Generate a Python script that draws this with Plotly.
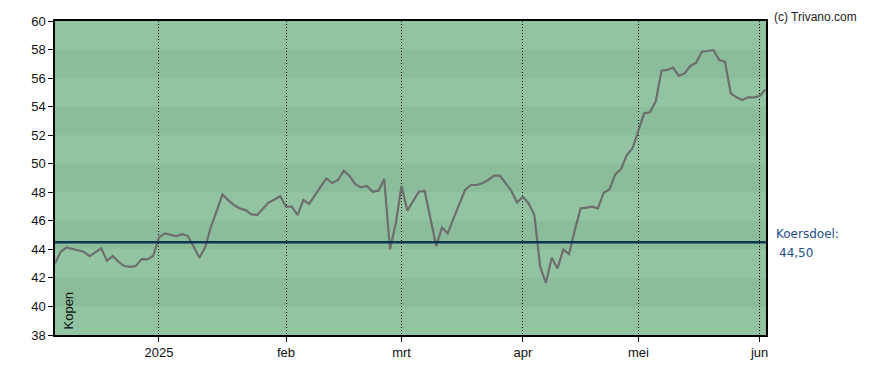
import pandas as pd
import plotly.graph_objects as go

# Trading days (Euronext) from 4 Dec 2024 to 3 Jun 2025
holidays = ["2024-12-25", "2024-12-26", "2025-01-01", "2025-04-18", "2025-04-21", "2025-05-01"]
dates = [d.strftime("%Y-%m-%d") for d in pd.bdate_range("2024-12-04", "2025-06-03") if d.strftime("%Y-%m-%d") not in holidays]

prices = [
    43.02, 43.83, 44.14, 44.04, 43.94, 43.83, 43.53, 43.80, 44.07, 43.20,
    43.53, 43.13, 42.83, 42.78, 42.83, 43.32, 43.30, 43.55, 44.84, 45.12,
    45.05, 44.93, 45.07, 44.95, 44.20, 43.41, 44.14, 45.58, 46.70, 47.85,
    47.45, 47.10, 46.87, 46.75, 46.45, 46.40, 46.85, 47.29, 47.50, 47.73,
    46.99, 46.99, 46.40, 47.46, 47.18, 47.74, 48.39, 48.98, 48.63, 48.86,
    49.51, 49.14, 48.56, 48.34, 48.44, 48.04, 48.11, 48.93, 44.00, 45.82,
    48.46, 46.71, 47.34, 48.04, 48.09, 46.20, 44.23, 45.52, 45.12, 46.17,
    47.20, 48.16, 48.51, 48.51, 48.63, 48.86, 49.16, 49.16, 48.65, 48.11,
    47.27, 47.69, 47.22, 46.40, 42.78, 41.66, 43.41, 42.67, 44.00, 43.67,
    45.35, 46.87, 46.93, 46.99, 46.87, 47.97, 48.20, 49.26, 49.63, 50.61,
    51.08, 52.24, 53.53, 53.60, 54.35, 56.52, 56.57, 56.73, 56.15, 56.33,
    56.85, 57.08, 57.85, 57.90, 57.97, 57.27, 57.15, 54.93, 54.65, 54.46,
    54.65, 54.65, 54.74, 55.21,
]

target = 44.50
target_label = "44,50"
month_tick_dates = ["2025-01-02", "2025-02-03", "2025-03-03", "2025-04-01", "2025-05-02", "2025-06-02"]
month_tick_labels = ["2025", "feb", "mrt", "apr", "mei", "jun"]
y_ticks = list(range(38, 61, 2))

n = min(len(dates), len(prices))
dates = dates[:n]
prices = prices[:n]

LIGHT = "#93c4a2"
DARK = "#8bbd9b"

fig = go.Figure()

fig.add_trace(go.Scatter(
    x=dates, y=prices, mode="lines",
    line=dict(color="#6e6e6e", width=2.2),
    hoverinfo="x+y", showlegend=False,
))

shapes = []
for y0 in [56, 52, 48, 44, 40]:
    shapes.append(dict(type="rect", xref="paper", yref="y", x0=0, x1=1, y0=y0, y1=y0 + 2,
                       fillcolor=DARK, line=dict(width=0), layer="below"))
shapes.append(dict(type="line", xref="paper", yref="y", x0=0, x1=1, y0=target, y1=target,
                   line=dict(color="#0b3550", width=2.5), layer="above"))

# the page body has an 8px margin, so the figure is drawn 8px smaller and the margins shifted
fig.update_layout(
    width=880, height=362,
    margin=dict(l=47, r=122, t=13, b=35),
    paper_bgcolor="white",
    plot_bgcolor=LIGHT,
    shapes=shapes,
    font=dict(family="Liberation Sans, Arial, sans-serif", size=13, color="#111"),
    xaxis=dict(
        type="category",
        automargin=False,
        range=[0, n - 1 + 0.1],
        tickmode="array",
        tickvals=month_tick_dates,
        ticktext=month_tick_labels,
        showgrid=True, gridcolor="#000000", gridwidth=1, griddash="1px,2px",
        ticks="outside", ticklen=5, tickcolor="#000",
        showline=True, linecolor="#000", linewidth=1.5, mirror=True,
        zeroline=False,
        tickfont=dict(size=13, color="#111"),
    ),
    yaxis=dict(
        automargin=False,
        range=[38, 60],
        tickmode="array",
        tickvals=y_ticks,
        ticktext=[str(v) for v in y_ticks],
        showgrid=False,
        ticks="outside", ticklen=5, tickcolor="#000",
        showline=True, linecolor="#000", linewidth=1.5, mirror=True,
        zeroline=False,
        tickfont=dict(size=13, color="#111"),
    ),
    annotations=[
        dict(text="(c) Trivano.com", xref="paper", yref="paper", x=1.0, y=1.0,
             xanchor="left", yanchor="top", xshift=6, yshift=13, showarrow=False,
             font=dict(size=12, color="#222")),
        dict(text="Koersdoel:", xref="paper", yref="y", x=1.0, y=target, xanchor="left",
             yanchor="bottom", xshift=8, yshift=-1, showarrow=False,
             font=dict(family="DejaVu Sans, Verdana, sans-serif", size=12, color="#1f4f8a")),
        dict(text=target_label, xref="paper", yref="y", x=1.0, y=target, xanchor="left",
             yanchor="top", xshift=11, yshift=-2, showarrow=False,
             font=dict(family="DejaVu Sans, Verdana, sans-serif", size=12, color="#1f4f8a")),
        dict(text="Kopen", xref="paper", yref="paper", x=0, y=0, xanchor="left",
             yanchor="bottom", xshift=3, yshift=3, textangle=-90, showarrow=False,
             font=dict(size=13, color="#111")),
    ],
)

fig.write_html("out.html")
